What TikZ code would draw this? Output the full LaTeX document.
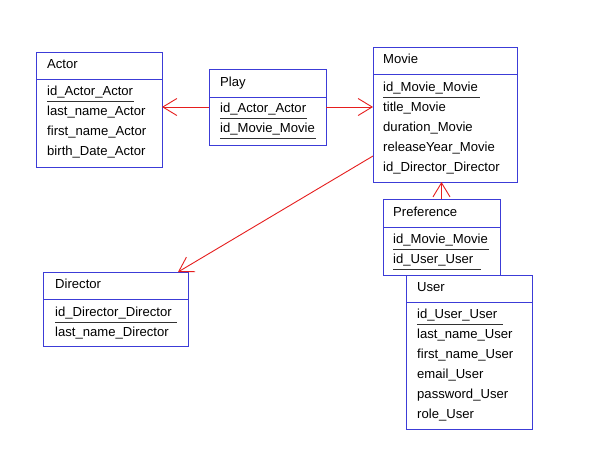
\documentclass[tikz,border=0pt]{standalone}
\usepackage{fontspec}
\setmainfont{Liberation Sans}
\usetikzlibrary{arrows.meta,calc}
\definecolor{boxblue}{RGB}{60,60,215}
\definecolor{relred}{RGB}{230,30,30}
\definecolor{ulgray}{RGB}{50,50,50}
\tikzset{
 entity/.style={draw=boxblue, line width=1pt, inner sep=0pt, outer sep=0pt, anchor=north west, fill=white},
 sepline/.style={draw=boxblue, line width=1pt},
 attr/.style={anchor=base west, inner sep=0pt, font=\fontsize{13.1}{15}\selectfont},
 uline/.style={draw=ulgray, line width=1pt},
 rel/.style={draw=relred, line width=0.9pt, -{Straight Barb[length=14pt,width=17pt]}},
}
\begin{document}
\begin{tikzpicture}[x=1pt,y=-1pt]
\useasboundingbox[fill=white] (0,0) rectangle (605,464);

% Actor
\node[entity, minimum width=126pt, minimum height=115pt] (actor) at (36,52) {};
\draw[sepline] ([yshift=-27pt]actor.north west) -- ([yshift=-27pt]actor.north east);
\node[attr] (actorT) at (47,68) {Actor};
\node[attr] (actor1) at (47,95) {id\_Actor\_Actor};
\node[attr] (actor2) at (47,115) {last\_name\_Actor};
\node[attr] (actor3) at (47,135) {first\_name\_Actor};
\node[attr] (actor4) at (47,155) {birth\_Date\_Actor};
\draw[uline] (47,101) -- (134,101);

% Play
\node[entity, minimum width=117pt, minimum height=76pt] (play) at (209,69) {};
\draw[sepline] ([yshift=-28pt]play.north west) -- ([yshift=-28pt]play.north east);
\node[attr] (playT) at (220,86) {Play};
\node[attr] (play1) at (220,112) {id\_Actor\_Actor};
\node[attr] (play2) at (220,132) {id\_Movie\_Movie};
\draw[uline] (220,118) -- (307,118);
\draw[uline] (220,138) -- (316,138);

% Movie
\node[entity, minimum width=144pt, minimum height=135pt] (movie) at (373,47) {};
\draw[sepline] ([yshift=-27pt]movie.north west) -- ([yshift=-27pt]movie.north east);
\node[attr] (movieT) at (383,63) {Movie};
\node[attr] (movie1) at (383,91) {id\_Movie\_Movie};
\node[attr] (movie2) at (383,111) {title\_Movie};
\node[attr] (movie3) at (383,131) {duration\_Movie};
\node[attr] (movie4) at (383,151) {releaseYear\_Movie};
\node[attr] (movie5) at (383,171) {id\_Director\_Director};
\draw[uline] (383,97) -- (480,97);

% Director
\node[entity, minimum width=145pt, minimum height=74pt] (director) at (43,272) {};
\draw[sepline] ([yshift=-27pt]director.north west) -- ([yshift=-27pt]director.north east);
\node[attr] (directorT) at (55,288) {Director};
\node[attr] (director1) at (55,316) {id\_Director\_Director};
\node[attr] (director2) at (55,336) {last\_name\_Director};
\draw[uline] (55,322) -- (177,322);

% Preference
\node[entity, minimum width=117pt, minimum height=76pt] (pref) at (383,199) {};
\draw[sepline] ([yshift=-28pt]pref.north west) -- ([yshift=-28pt]pref.north east);
\node[attr] (prefT) at (393,216) {Preference};
\node[attr] (pref1) at (393,243) {id\_Movie\_Movie};
\node[attr] (pref2) at (393,263) {id\_User\_User};
\draw[uline] (393,249) -- (489,249);
\draw[uline] (393,269) -- (481,269);

% User
\node[entity, minimum width=126pt, minimum height=154pt] (user) at (406,275) {};
\draw[sepline] ([yshift=-27pt]user.north west) -- ([yshift=-27pt]user.north east);
\node[attr] (userT) at (417,291) {User};
\node[attr] (user1) at (417,318) {id\_User\_User};
\node[attr] (user2) at (417,338) {last\_name\_User};
\node[attr] (user3) at (417,358) {first\_name\_User};
\node[attr] (user4) at (417,378) {email\_User};
\node[attr] (user5) at (417,398) {password\_User};
\node[attr] (user6) at (417,418) {role\_User};
\draw[uline] (417,324) -- (503,324);

% Relations
\draw[rel] (play.west) -- (play.west -| actor.east);
\draw[rel] (play.east) -- (play.east -| movie.west);
\draw[rel] (pref.north) -- (pref.north |- movie.south);
\draw[rel] ($(movie.south west)+(0,-26)$) -- ($(director.north east)+(-10,0)$);
\end{tikzpicture}
\end{document}
